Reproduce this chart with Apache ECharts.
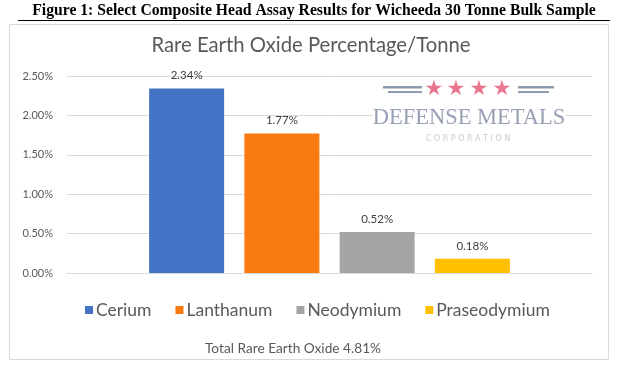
<!DOCTYPE html>
<html><head><meta charset="utf-8">
<script src="https://cdn.jsdelivr.net/npm/echarts@6/dist/echarts.min.js"></script>
<style>html,body{margin:0;padding:0;background:#fff}#c{width:617px;height:365px}</style>
</head><body><div id="c"></div>
<script>
var seriesNames = ['Cerium', 'Lanthanum', 'Neodymium', 'Praseodymium'];
var seriesValues = [2.34, 1.77, 0.52, 0.18];
var seriesColors = ['#4472C4', '#F97A10', '#A5A5A5', '#FFC000'];
var categories = [''];
var yTicks = [0, 0.5, 1.0, 1.5, 2.0, 2.5];
var captionText = 'Figure 1: Select Composite Head Assay Results for Wicheeda 30 Tonne Bulk Sample';
var titleText = 'Rare Earth Oxide Percentage/Tonne';
var footerText = 'Total Rare Earth Oxide 4.81%';

var chart = echarts.init(document.getElementById('c'), null, {renderer: 'canvas'});
var FONT = 'Lato';
var series = seriesNames.map(function (n, i) {
  return {
    name: n, type: 'bar', data: [seriesValues[i]],
    barWidth: 75, barGap: '27%',
    itemStyle: {color: seriesColors[i]},
    label: {show: true, position: 'top', distance: 7, fontFamily: FONT, fontSize: 11.5, color: '#404040',
      formatter: function (p) { return p.value.toFixed(2) + '%'; }}
  };
});
var stars = [434, 456, 479, 502].map(function (x) {
  return {type: 'text', z: 100, style: {text: '\u2605', x: x, y: 90, fill: '#E9758F', font: '21px "DejaVu Sans"', align: 'center', verticalAlign: 'middle'}};
});
chart.setOption({
  animation: false,
  backgroundColor: '#fff',
  grid: {left: 67, right: 25, top: 76, bottom: 92},
  xAxis: {type: 'category', data: categories, axisTick: {show: false}, axisLabel: {show: false},
    axisLine: {lineStyle: {color: '#D9D9D9'}}},
  yAxis: {type: 'value', min: yTicks[0], max: yTicks[yTicks.length - 1], interval: 0.5,
    axisLabel: {fontFamily: FONT, fontSize: 11, color: '#595959', margin: 14,
      formatter: function (v) { return v.toFixed(2) + '%'; }},
    splitLine: {lineStyle: {color: '#D9D9D9'}}, axisLine: {show: false}, axisTick: {show: false}},
  legend: {data: seriesNames, bottom: 41, left: 80, icon: 'rect', itemWidth: 8, itemHeight: 8, itemGap: 24,
    textStyle: {fontFamily: FONT, fontSize: 17.5, color: '#595959', padding: [0, 0, 0, -2]}},
  series: series,
  graphic: [
    {type: 'rect', z: -1, shape: {x: 9.5, y: 24.5, width: 599, height: 335}, style: {fill: '#fff', stroke: '#D9D9D9', lineWidth: 1}},
    {type: 'text', style: {text: captionText, x: 314, y: 11, fill: '#000', font: 'bold 15.7px "Liberation Serif"', align: 'center', verticalAlign: 'middle'}},
    {type: 'rect', shape: {x: 18, y: 20, width: 592, height: 1}, style: {fill: '#000'}},
    {type: 'text', style: {text: titleText, x: 311, y: 45, fill: '#595959', font: '20.3px ' + FONT, align: 'center', verticalAlign: 'middle'}},
    {type: 'text', style: {text: footerText, x: 293, y: 349, fill: '#595959', font: '13.7px ' + FONT, align: 'center', verticalAlign: 'middle'}},
    {type: 'text', z: 100, style: {text: 'DEFENSE METALS', x: 469, y: 118, fill: '#97A1B3', font: '22.5px "Liberation Serif"', align: 'center', verticalAlign: 'middle', backgroundColor: '#fff'}},
    {type: 'text', z: 100, style: {text: 'C O R P O R A T I O N', x: 468, y: 139, fill: '#C9CDD5', font: '8px "DejaVu Sans"', align: 'center', verticalAlign: 'middle'}},
    {type: 'rect', z: 100, shape: {x: 383, y: 86, width: 39, height: 2.5}, style: {fill: '#8E9BB0'}},
    {type: 'rect', z: 100, shape: {x: 388, y: 91, width: 34, height: 2}, style: {fill: '#8E9BB0'}},
    {type: 'rect', z: 100, shape: {x: 518, y: 86, width: 36, height: 2.5}, style: {fill: '#8E9BB0'}},
    {type: 'rect', z: 100, shape: {x: 518, y: 91, width: 31, height: 2}, style: {fill: '#8E9BB0'}}
  ].concat(stars)
});
</script></body></html>
